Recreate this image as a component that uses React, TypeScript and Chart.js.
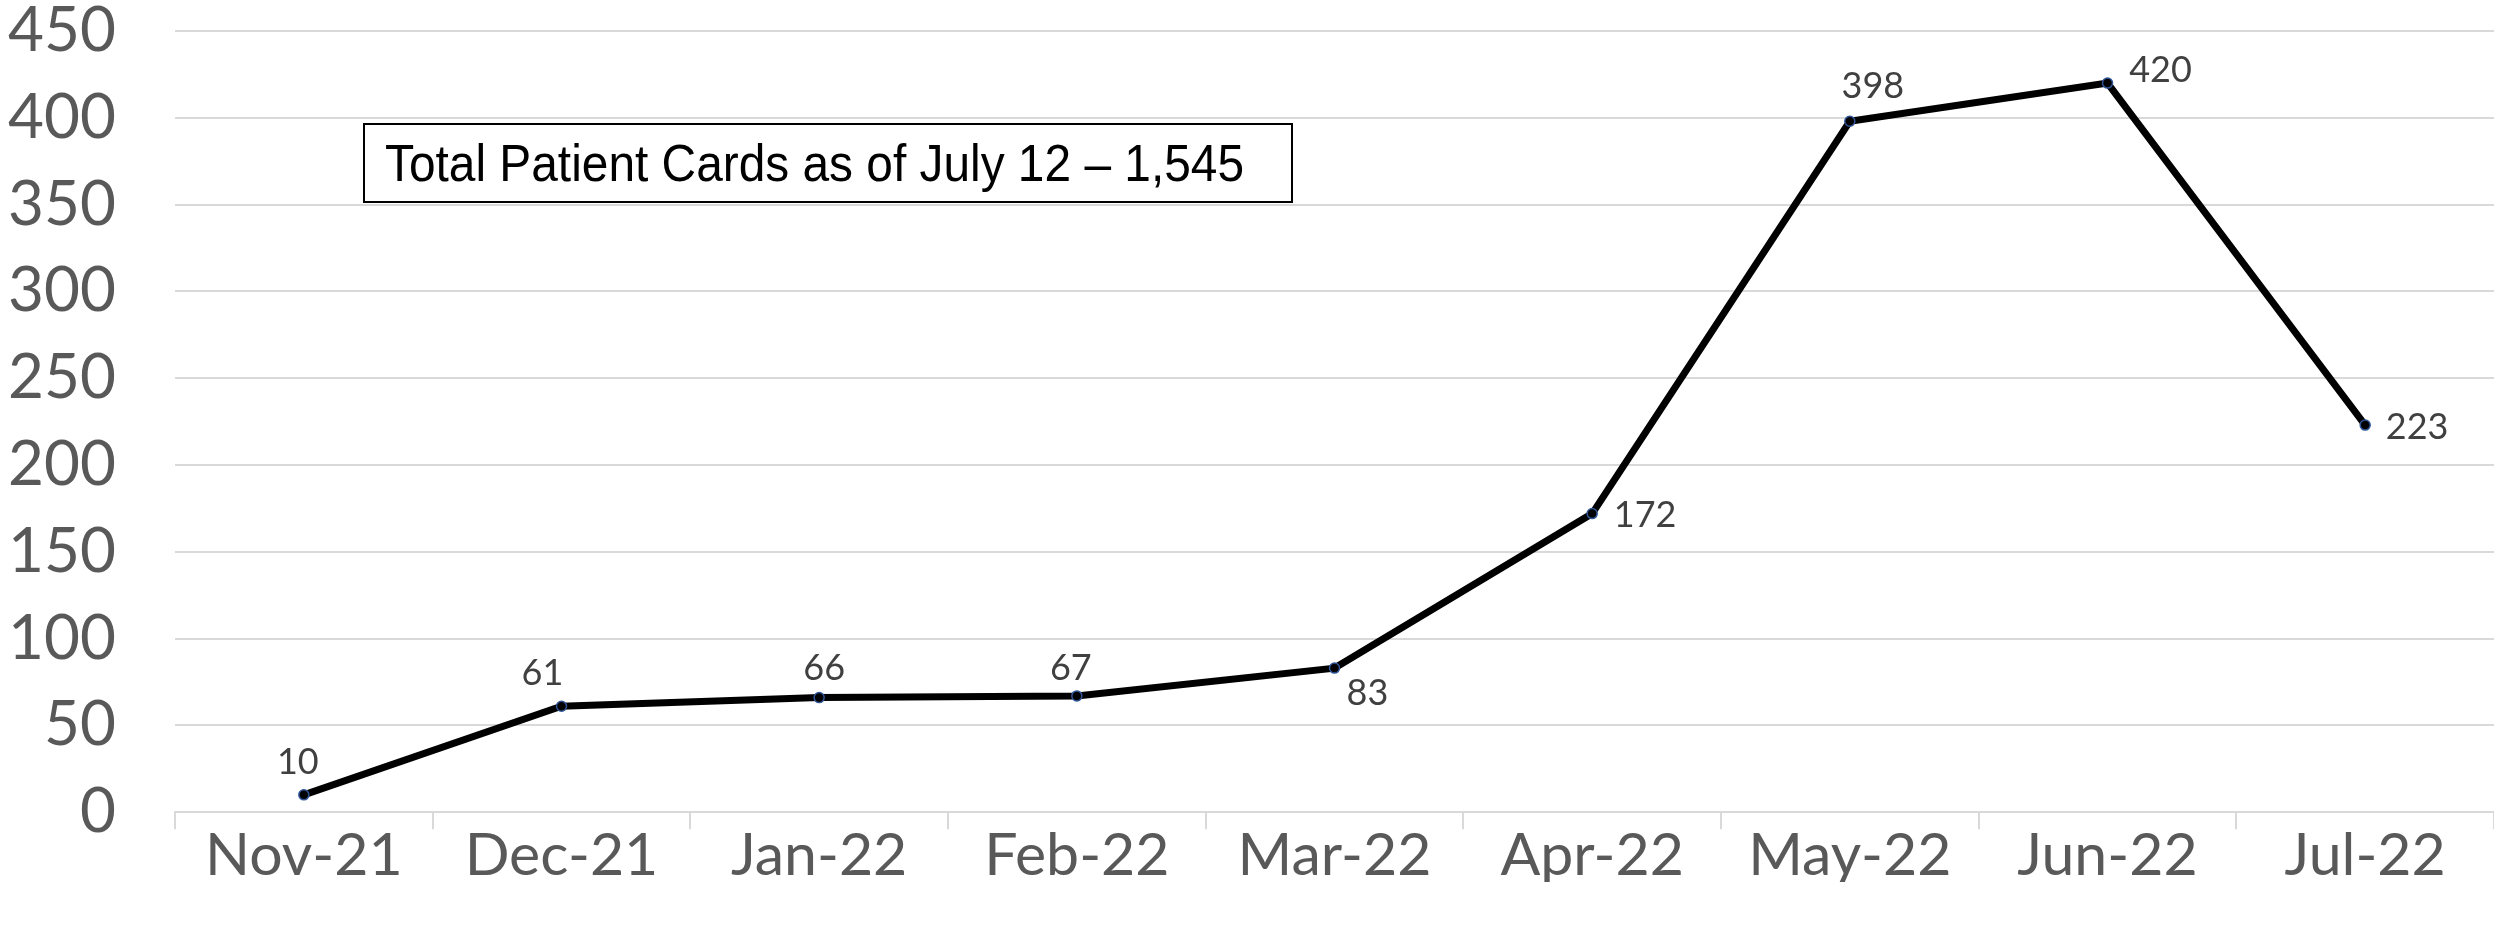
import React, { useEffect, useRef } from "react";
import { Chart, registerables } from "chart.js";

Chart.register(...registerables);

const categories = ["Nov-21", "Dec-21", "Jan-22", "Feb-22", "Mar-22", "Apr-22", "May-22", "Jun-22", "Jul-22"];
const patientCards = [10, 61, 66, 67, 83, 172, 398, 420, 223];
// label offsets from each point (pixels), a styling choice
const labelDx = [-6, -19, 5, -6, 33, 53, 23, 53, 52];
const labelDy = [-32, -33, -29, -27, 25, 2, -35, -13, 2];
const yTickMin = 0;
const yTickMax = 450;
const yTickStep = 50;
const boxText = "Total Patient Cards as of July 12 \u2013 1,545";

const dataLabelPlugin = {
  id: "dataLabels",
  afterDatasetsDraw(chart: any) {
    const ctx = chart.ctx;
    const meta = chart.getDatasetMeta(0);
    ctx.save();
    ctx.font = "36px Lato";
    ctx.fillStyle = "#404040";
    ctx.textAlign = "center";
    ctx.textBaseline = "middle";
    meta.data.forEach((pt: any, i: number) => {
      ctx.fillText(String(patientCards[i]), pt.x + labelDx[i], pt.y + labelDy[i]);
    });
    ctx.restore();
  },
};

const textBoxPlugin = {
  id: "textBox",
  afterDraw(chart: any) {
    const ctx = chart.ctx;
    const a = chart.chartArea;
    const bx = a.left + 189;
    const by = a.top + 93;
    const bw = 928;
    const bh = 78;
    ctx.save();
    ctx.fillStyle = "#ffffff";
    ctx.fillRect(bx, by, bw, bh);
    ctx.strokeStyle = "#000000";
    ctx.lineWidth = 2;
    ctx.strokeRect(bx, by, bw, bh);
    ctx.font = "52px 'Liberation Sans Narrow', 'Liberation Sans', Arial";
    ctx.fillStyle = "#000000";
    ctx.textBaseline = "alphabetic";
    ctx.textAlign = "left";
    const target = 859;
    const w = ctx.measureText(boxText).width;
    const sx = target / w;
    ctx.translate(bx + 21, by + 57);
    ctx.scale(sx, 1);
    ctx.fillText(boxText, 0, 0);
    ctx.restore();
  },
};

export default function App() {
  const ref = useRef<HTMLCanvasElement | null>(null);
  useEffect(() => {
    if (!ref.current) return;
    const chart = new Chart(ref.current, {
      type: "line",
      data: {
        labels: categories,
        datasets: [
          {
            data: patientCards,
            borderColor: "#000000",
            borderWidth: 7,
            backgroundColor: "#000000",
            pointBackgroundColor: "#000000",
            pointBorderColor: "#2F5597",
            pointBorderWidth: 1.5,
            pointRadius: 5,
            tension: 0,
            fill: false,
            clip: false,
          },
        ],
      },
      options: {
        responsive: true,
        maintainAspectRatio: false,
        animation: false,
        layout: { autoPadding: false, padding: { left: 0, right: 0, top: 0, bottom: 50 } },
        plugins: {
          legend: { display: false },
          tooltip: { enabled: false },
          title: { display: false },
        },
        scales: {
          x: {
            offset: true,
            grid: {
              offset: true,
              drawOnChartArea: false,
              drawTicks: true,
              tickLength: 17,
              color: "#d9d9d9",
              lineWidth: 2,
            },
            border: { display: true, color: "#d9d9d9", width: 2 },
            ticks: {
              color: "#595959",
              font: { family: "Lato", size: 59 },
              padding: -9,
              maxRotation: 0,
              autoSkip: false,
            },
            afterFit: (scale: any) => {
              scale.paddingLeft = 0;
              scale.paddingRight = 0;
            },
          },
          y: {
            min: yTickMin,
            max: yTickMax,
            grid: {
              color: "#d9d9d9",
              lineWidth: 2,
              drawTicks: false,
            },
            border: { display: false },
            ticks: {
              stepSize: yTickStep,
              color: "#595959",
              font: { family: "Lato", size: 62 },
              padding: 59,
            },
            afterFit: (scale: any) => {
              scale.width = 175;
              scale.paddingTop = 31;
              scale.paddingBottom = 0;
            },
          },
        },
      },
      plugins: [dataLabelPlugin, textBoxPlugin],
    });
    return () => chart.destroy();
  }, []);
  return (
    <div style={{ position: "fixed", left: 0, top: 0, width: 2494, height: 932, background: "#fff" }}>
      <canvas ref={ref} />
    </div>
  );
}
